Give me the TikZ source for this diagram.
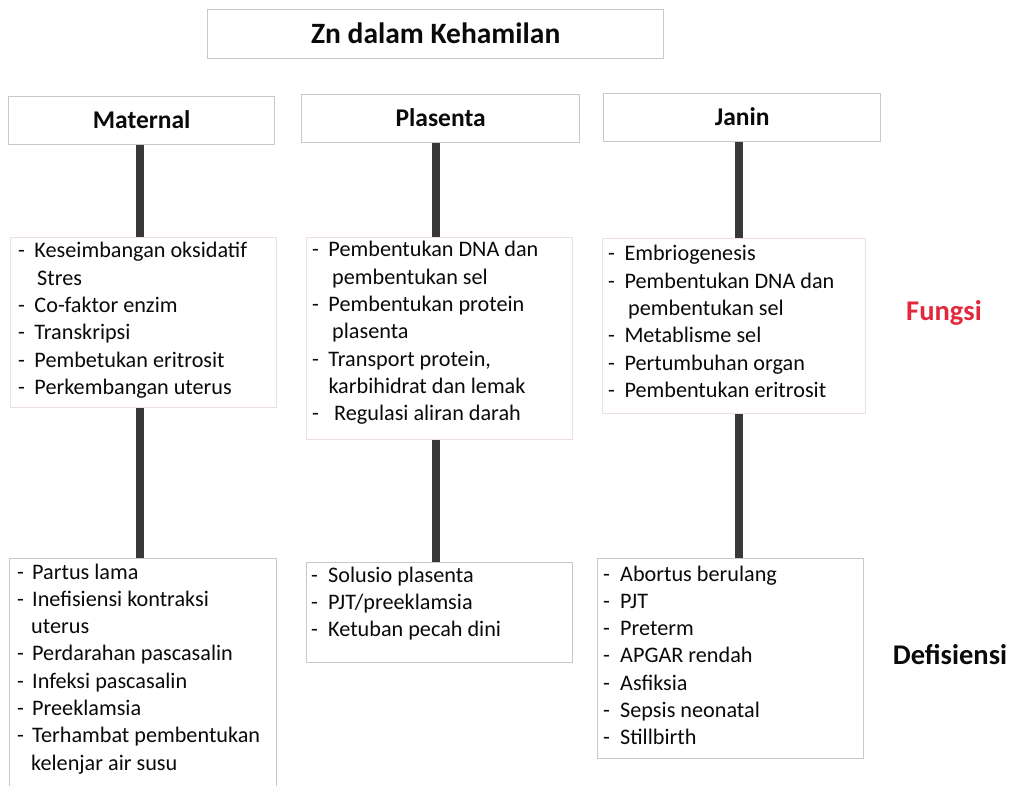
\documentclass[tikz,border=0pt]{standalone}
\usepackage{fontspec}
\setmainfont{Carlito}
\definecolor{boxline}{HTML}{C8C8C8}
\definecolor{fnline}{HTML}{EEDFDF}
\definecolor{conncol}{HTML}{383838}
\definecolor{fred}{HTML}{E1283C}
\definecolor{txtcol}{HTML}{0A0A0A}
\newcommand\dl[2][16.3pt]{\makebox[#1][l]{-}#2\par}
\newcommand\cl[2][19pt]{\hspace*{#1}#2\par}
\newcommand\lst[1]{\parbox[t]{260pt}{\fontsize{22.2}{27.3}\selectfont #1}}
\begin{document}
\begin{tikzpicture}[x=1pt,y=-1pt,
  box/.style={draw=boxline, line width=1.3pt, fill=white, anchor=north west, inner sep=0pt},
  fnbox/.style={box, draw=fnline},
  hdr/.style={box, font=\fontsize{25.5}{30}\selectfont\bfseries, text=txtcol, text height=15.5pt, text depth=0pt},
  txt/.style={anchor=base west, inner sep=0pt, text=txtcol},
  conn/.style={line width=8pt, draw=conncol},
  side/.style={anchor=base, inner sep=0pt, font=\fontsize{28.5}{34}\selectfont\bfseries}]
\clip (0,0) rectangle (1013,786);
\fill[white] (0,0) rectangle (1013,786);

% title and headers
\node[box, minimum width=456pt, minimum height=49pt, font=\fontsize{29.5}{35}\selectfont\bfseries, text=txtcol, text height=18.6pt, text depth=0pt] (title) at (207,9) {Zn dalam Kehamilan};
\node[hdr, minimum width=266pt, minimum height=48pt] (hM) at (8,96) {Maternal};
\node[hdr, minimum width=278pt, minimum height=48pt] (hP) at (301,94) {Plasenta};
\node[hdr, minimum width=277pt, minimum height=48pt] (hJ) at (603,93) {Janin};

% function boxes
\node[fnbox, minimum width=266pt, minimum height=170pt] (fM) at (10,237) {};
\node[fnbox, minimum width=266pt, minimum height=202pt] (fP) at (306,237) {};
\node[fnbox, minimum width=263pt, minimum height=175pt] (fJ) at (602,238) {};

% deficiency boxes
\node[box, minimum width=267pt, minimum height=240pt] (dM) at (9,558) {};
\node[box, minimum width=266pt, minimum height=100pt] (dP) at (306,562) {};
\node[box, minimum width=266pt, minimum height=200pt] (dJ) at (597,558) {};

% connectors
\draw[conn] ([xshift=-2pt]hM.south) -- ([xshift=-2pt]hM.south |- fM.north);
\draw[conn] ([xshift=-2pt]hM.south |- fM.south) -- ([xshift=-2pt]hM.south |- dM.north);
\draw[conn] ([xshift=-5pt]hP.south) -- ([xshift=-5pt]hP.south |- fP.north);
\draw[conn] ([xshift=-5pt]hP.south |- fP.south) -- ([xshift=-5pt]hP.south |- dP.north);
\draw[conn] ([xshift=-3.5pt]hJ.south) -- ([xshift=-3.5pt]hJ.south |- fJ.north);
\draw[conn] ([xshift=-3.5pt]hJ.south |- fJ.south) -- ([xshift=-3.5pt]hJ.south |- dJ.north);

% function texts
\node[txt] (fMt) at (18,258) {\lst{\dl{Keseimbangan oksidatif}\cl{Stres}\dl{Co-faktor enzim}\dl{Transkripsi}\dl{Pembetukan eritrosit}\dl{Perkembangan uterus}}};
\node[txt] (fPt) at (312,257) {\lst{\dl{Pembentukan DNA dan}\cl[20pt]{pembentukan sel}\dl{Pembentukan protein}\cl[20pt]{plasenta}\dl{Transport protein,}\cl[16.3pt]{karbihidrat dan lemak}\dl[22pt]{Regulasi aliran darah}}};
\node[txt] (fJt) at (608,261) {\lst{\dl{Embriogenesis}\dl{Pembentukan DNA dan}\cl[20pt]{pembentukan sel}\dl{Metablisme sel}\dl{Pertumbuhan organ}\dl{Pembentukan eritrosit}}};

% deficiency texts
\node[txt] (dMt) at (17,579) {\lst{\dl[15pt]{Partus lama}\dl[15pt]{Inefisiensi kontraksi}\cl[14pt]{uterus}\dl[15pt]{Perdarahan pascasalin}\dl[15pt]{Infeksi pascasalin}\dl[15pt]{Preeklamsia}\dl[15pt]{Terhambat pembentukan}\cl[14pt]{kelenjar air susu}}};
\node[txt] (dPt) at (311,582) {\lst{\dl[17pt]{Solusio plasenta}\dl[17pt]{PJT/preeklamsia}\dl[17pt]{Ketuban pecah dini}}};
\node[txt] (dJt) at (603,581) {\lst{\dl[17pt]{Abortus berulang}\dl[17pt]{PJT}\dl[17pt]{Preterm}\dl[17pt]{APGAR rendah}\dl[17pt]{Asfiksia}\dl[17pt]{Sepsis neonatal}\dl[17pt]{Stillbirth}}};

% side labels
\node[side, text=fred] (fungsi) at (944,321) {Fungsi};
\node[side, text=txtcol] (defisiensi) at (950,664) {Defisiensi};
\end{tikzpicture}
\end{document}
